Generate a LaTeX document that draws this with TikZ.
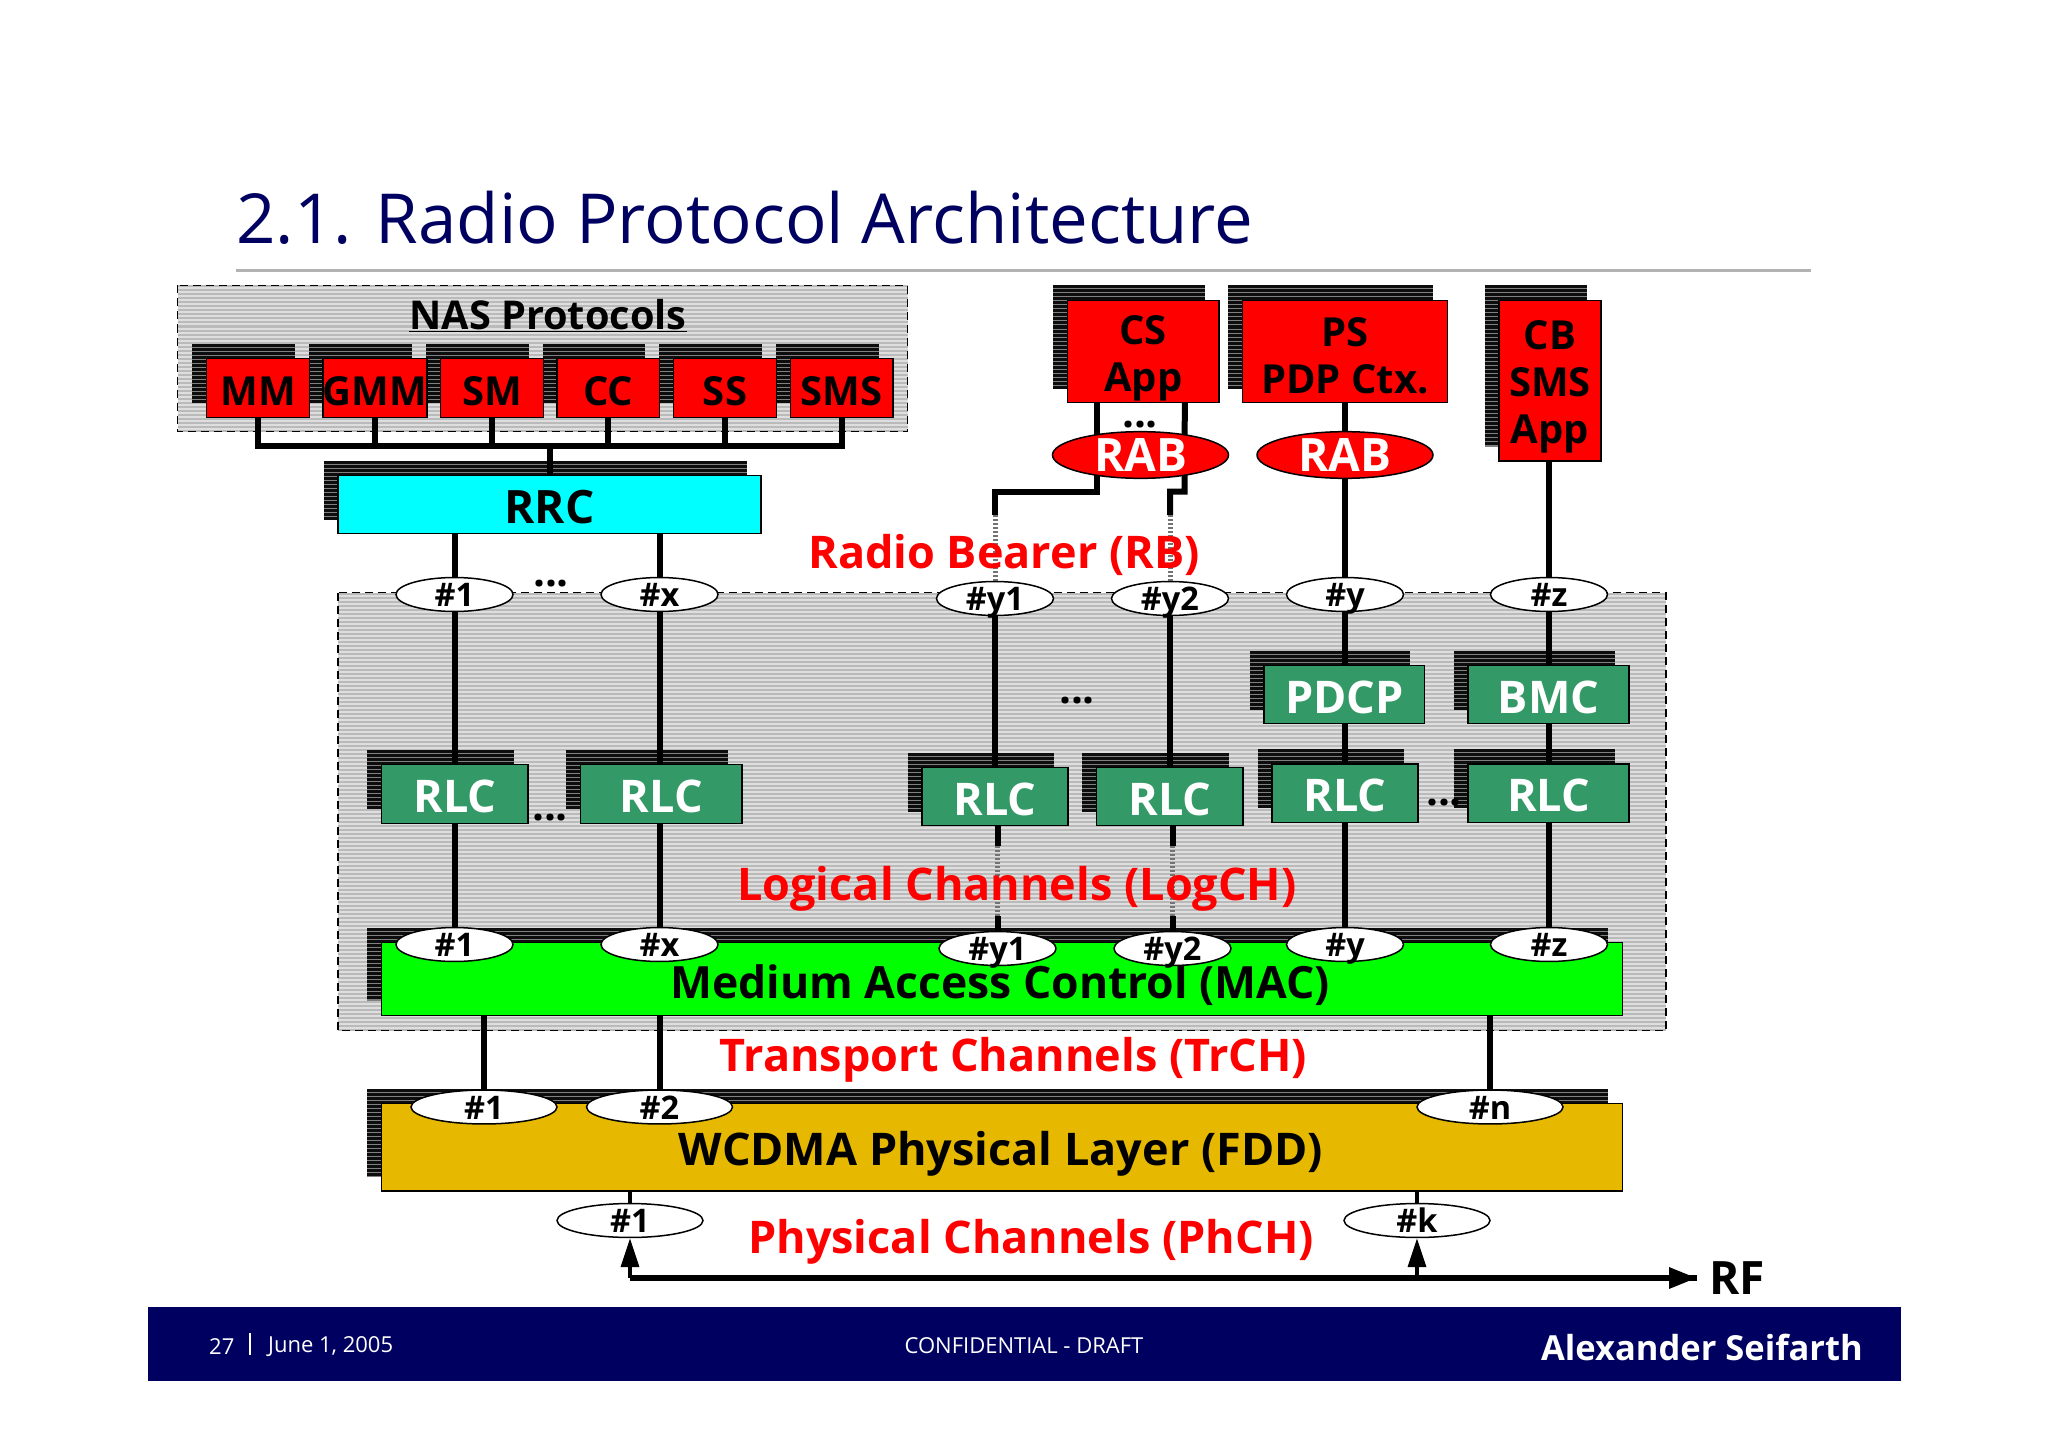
\documentclass[tikz,border=0pt]{standalone}
\usepackage{fontspec}
\setmainfont{Open Sans}
\usetikzlibrary{shapes.geometric,arrows.meta,calc}
\pgfdeclarelayer{panelL}\pgfdeclarelayer{shadL}\pgfdeclarelayer{lineL}
\pgfsetlayers{panelL,shadL,lineL,main}
\definecolor{navy}{HTML}{000060}
\definecolor{seagrn}{HTML}{339966}
\definecolor{gold}{HTML}{E6B800}
\definecolor{red0}{HTML}{FF0000}
\definecolor{cyan0}{HTML}{00FFFF}
\definecolor{green0}{HTML}{00FF00}
\newcommand{\fs}[1]{\fontsize{#1}{47}\selectfont\bfseries}
\newcommand{\hatchrect}[7]{% x1 y1 x2 y2 base stripe width
  \fill[#5] (#1,#2) rectangle (#3,#4);
  \pgfmathtruncatemacro{\nl}{(#4-#2)/4}
  \foreach \i in {0,...,\nl}{
    \pgfmathsetmacro{\yy}{#2+\i*4+1}
    \ifdim\yy pt<#4pt \draw[#6,line width=#7pt] (#1,\yy) -- (#3,\yy);\fi
  }}
\newcommand{\pbox}[7]{% name x1 y1 x2 y2 style text
  \begin{pgfonlayer}{shadL}
  \pgfmathsetmacro{\sa}{#2-14.5}\pgfmathsetmacro{\sb}{#3-14.5}
  \pgfmathsetmacro{\sc}{#4-14.5}\pgfmathsetmacro{\sd}{#5-14.5}
  \hatchrect{\sa}{\sb}{\sc}{\sd}{black!50}{black!95}{3}
  \end{pgfonlayer}
  \pgfmathsetmacro{\cx}{(#2+#4)/2}\pgfmathsetmacro{\cy}{(#3+#5)/2}
  \pgfmathsetmacro{\ww}{#4-#2}\pgfmathsetmacro{\hh}{#5-#3}
  \node[#6,minimum width=\ww pt,minimum height=\hh pt] (#1) at (\cx,\cy) {#7};}
\newcommand{\tallA}{\rule{0pt}{42pt}}
\newcommand{\tallB}{\rule{0pt}{37pt}}
\tikzset{
  box/.style={draw=black,line width=1.5pt,inner sep=0pt,rectangle,align=center,text=black},
  redbox/.style={box,fill=red0,font=\fs{40}},
  redcap/.style={redbox,text height=35pt,text depth=0pt},
  grnbox/.style={box,fill=seagrn,text=white,font=\fs{45},text height=37pt,text depth=0pt},
  chan/.style={ellipse,draw=black,line width=1.5pt,fill=white,inner sep=0pt,font=\fs{32.5},text height=24pt,text depth=0pt,minimum width=117pt,minimum height=33pt},
  chanw/.style={chan,minimum width=146pt,minimum height=29pt},
  rab/.style={ellipse,draw=black,line width=1.5pt,fill=red0,text=white,inner sep=0pt,font=\fs{46},text height=33pt,text depth=0pt,minimum width=176pt,minimum height=44pt},
  link/.style={line width=6pt,draw=black},
  faint/.style={line width=5pt,draw=black!55,dash pattern=on 1.5pt off 2.5pt},
  rtxt/.style={text=red0,font=\fs{45},inner sep=0pt},
  btxt/.style={text=black,font=\fs{44.5},inner sep=0pt},
  dotsn/.style={text=black,font=\fs{42},inner sep=0pt,anchor=base},
  frame/.style={draw=black,line width=1.5pt,dash pattern=on 8pt off 5pt},
  foot/.style={text=white,inner sep=0pt,anchor=west,font=\fontsize{22}{26}\selectfont},
  thin arrow/.style={line width=3.5pt,draw=black,-{Triangle[length=29pt,width=18pt]}},
}
\begin{document}
\begin{tikzpicture}[x=1pt,y=-1pt]
\useasboundingbox (0,0) rectangle (2048,1447);
% title
\node[anchor=base west,inner sep=0pt,text=navy,font=\fontsize{69}{76}\selectfont] (title) at (236,244) {2.1. Radio Protocol Architecture};
\coordinate (ruleL) at (236,270.5); \coordinate (ruleR) at (1811,270.5);
\draw[line width=3.5pt,draw=black!30] (ruleL) -- (ruleR);
% panels
\begin{pgfonlayer}{panelL}
\hatchrect{177.5}{285.5}{907.5}{431.5}{black!13}{black!27}{2}
\draw[frame] (177.5,285.5) rectangle (907.5,431.5);
\hatchrect{338}{592.5}{1666}{1030.5}{black!13}{black!27}{2}
\draw[frame] (338,592.5) rectangle (1666,1030.5);
\end{pgfonlayer}
\node[btxt,font=\fs{39.7}] (nas) at (548,316) {\underline{NAS Protocols}};
% NAS boxes
\pbox{mm}{206.5}{358.5}{309.5}{417.5}{redcap}{MM}
\pbox{gmm}{323.5}{358.5}{426.5}{417.5}{redcap}{GMM}
\pbox{sm}{440.5}{358.5}{543.5}{417.5}{redcap}{SM}
\pbox{cc}{557}{358.5}{659.5}{417.5}{redcap}{CC}
\pbox{ss}{673.5}{358.5}{776.5}{417.5}{redcap}{SS}
\pbox{sms}{790.5}{358.5}{893}{417.5}{redcap}{SMS}
\pbox{rrc}{338}{475.5}{761}{533.5}{box,fill=cyan0,font=\fs{46},text height=37pt,text depth=0pt}{RRC}
% apps
\pbox{cs}{1067.5}{300.5}{1219}{402.5}{redbox}{\tallA CS\\App}
\pbox{ps}{1242.5}{300.5}{1447.5}{402.5}{redbox}{\tallB PS\\PDP Ctx.}
\pbox{cb}{1499}{300.5}{1601}{461}{redbox}{\tallA CB\\SMS\\App}
\node[rab] (rab1) at (1140.5,455) {RAB};
\node[rab] (rab2) at (1345,455) {RAB};
\node[dotsn] (dA) at (1140,427) {...};
% channel ellipses at RB level
\node[chan] (b1) at (454.5,594.5) {\#1};
\node[chan] (bx) at (659.5,594.5) {\#x};
\node[chan] (by1) at (995,598.5) {\#y1};
\node[chan] (by2) at (1170,598.5) {\#y2};
\node[chan] (by) at (1345,594.5) {\#y};
\node[chan] (bz) at (1549,594.5) {\#z};
\node[dotsn] (dB) at (551,586) {...};
\node[dotsn] (dC) at (1077,703) {...};
% layer boxes
\pbox{pdcp}{1264}{665.5}{1424.5}{723.5}{grnbox}{PDCP}
\pbox{bmc}{1468}{665.5}{1629}{723.5}{grnbox}{BMC}
\pbox{r1}{381.5}{764.5}{528}{823.5}{grnbox}{RLC}
\pbox{rx}{580.5}{764.5}{742}{823.5}{grnbox}{RLC}
\pbox{ry1}{922}{767.5}{1068}{825.5}{grnbox}{RLC}
\pbox{ry2}{1096.5}{767.5}{1243}{825.5}{grnbox}{RLC}
\pbox{ry}{1272}{764}{1418}{822.5}{grnbox}{RLC}
\pbox{rz}{1468}{764}{1629}{822.5}{grnbox}{RLC}
\node[dotsn] (dD) at (550,820) {...};
\node[dotsn] (dE) at (1444,805) {...};
% MAC and PHY
\pbox{mac}{381.5}{942.5}{1622.5}{1015.5}{box,fill=green0}{}
\pbox{phy}{381.5}{1103.5}{1622.5}{1191}{box,fill=gold}{}
\node[btxt] (mact) at (1000,985) {Medium Access Control (MAC)};
\node[btxt,font=\fs{45}] (phyt) at (1001,1154) {WCDMA Physical Layer (FDD)};
\node[chan] (m1) at (454.5,944.5) {\#1};
\node[chan] (mx) at (659.5,944.5) {\#x};
\node[chan] (my1) at (997.5,948.5) {\#y1};
\node[chan] (my2) at (1172.5,948.5) {\#y2};
\node[chan] (my) at (1345,944.5) {\#y};
\node[chan] (mz) at (1549,944.5) {\#z};
\node[chanw] (t1) at (484,1107) {\#1};
\node[chanw] (t2) at (659.5,1107) {\#2};
\node[chanw] (tn) at (1490,1107) {\#n};
\node[chanw] (p1) at (630,1220.5) {\#1};
\node[chanw] (pk) at (1417,1220.5) {\#k};
% red labels
\node[rtxt] (lrb) at (1004,555) {Radio Bearer (RB)};
\node[rtxt] (llc) at (1017,889) {Logical Channels (LogCH)};
\node[rtxt] (ltc) at (1013.5,1060) {Transport Channels (TrCH)};
\node[rtxt] (lpc) at (1031,1242) {Physical Channels (PhCH)};
\node[btxt,anchor=west,font=\fs{46}] (rf) at (1709,1278) {RF};
% connectors
\coordinate (busL) at (mm|-0,446); \coordinate (busR) at (sms|-0,446);
\coordinate (busC) at (rrc|-0,446);
\coordinate (jog1) at (by1|-0,491.5);
\coordinate (jog2a) at (1184.5,491.5); \coordinate (jog2b) at (by2|-0,491.5);
\coordinate (sb1) at (by1|-0,515); \coordinate (sb2) at (by2|-0,515);
\coordinate (ca1) at (my1|-0,846); \coordinate (cb1) at (my1|-0,916);
\coordinate (ca2) at (my2|-0,846); \coordinate (cb2) at (my2|-0,916);
\coordinate (rfbase) at (p1|-0,1278); \coordinate (rfk) at (pk|-0,1278);
\coordinate (rfend) at (1697,1278);
\begin{pgfonlayer}{lineL}
\draw[link] (busL) -- (busR);
\foreach \n in {mm,gmm,sm,cc,ss,sms}{\draw[link] (\n.south) -- (\n|-busL);}
\draw[link,line cap=rect] (mm.south) -- (busL);
\draw[link,line cap=rect] (sms.south) -- (busR);
\draw[link] (busC) -- (rrc.north);
\draw[link] (b1|-rrc.south) -- (b1);
\draw[link] (bx|-rrc.south) -- (bx);
\draw[link] (b1) -- (r1.north-|b1);
\draw[link] (bx) -- (bx|-rx.north);
\draw[link] (r1.south-|m1) -- (m1);
\draw[link] (rx.south-|mx) -- (mx);
% CS to y1 / y2
\draw[link] (1097.3,402) -- (1097.3,491.5) -- (jog1) -- (sb1);
\draw[link] (1184.8,402) -- (jog2a) -- (jog2b) -- (sb2);
\draw[faint] (sb1) -- (by1);
\draw[faint] (sb2) -- (by2);
\draw[link] (by1) -- (by1|-ry1.north);
\draw[link] (by2) -- (by2|-ry2.north);
\draw[link] (ry1.south-|my1) -- (ca1);
\draw[link] (ry2.south-|my2) -- (ca2);
\draw[faint] (ca1) -- (cb1);
\draw[faint] (ca2) -- (cb2);
\draw[link] (cb1) -- (my1);
\draw[link] (cb2) -- (my2);
% PS, CB
\draw[link] (ps.south-|rab2) -- (rab2);
\draw[link] (rab2) -- (by);
\draw[link] (cb.south-|bz) -- (bz);
\draw[link] (by) -- (by|-pdcp.north);
\draw[link] (bz) -- (bz|-bmc.north);
\draw[link] (pdcp.south-|by) -- (by|-ry.north);
\draw[link] (bmc.south-|bz) -- (bz|-rz.north);
\draw[link] (ry.south-|my) -- (my);
\draw[link] (rz.south-|mz) -- (mz);
% MAC to PHY
\draw[link] (mac.south-|t1) -- (t1);
\draw[link] (mac.south-|t2) -- (t2);
\draw[link] (mac.south-|tn) -- (tn);
\draw[line width=4.5pt] (phy.south-|p1) -- (p1);
\draw[line width=4.5pt] (phy.south-|pk) -- (pk);
\draw[line width=6pt] (rfbase) -- (rfend);
\end{pgfonlayer}
\draw[thin arrow] (rfbase) -- (p1.south);
\draw[thin arrow] (rfk) -- (pk.south);
\draw[line width=6pt,-{Triangle[length=28pt,width=20pt]}] (rfk) -- (rfend);
% footer
\fill[navy] (148,1306.5) rectangle (1900.5,1380.5);
\node[foot] (fa) at (209,1346.5) {27};
\coordinate (barT) at (250,1333); \coordinate (barB) at (250,1355);
\draw[white,line width=1.2pt] (barT) -- (barB);
\node[foot] (fb) at (268,1346.5) {June 1, 2005};
\node[foot,anchor=center] (fc) at (1024,1346) {CONFIDENTIAL - DRAFT};
\node[foot,anchor=east,font=\fs{34.5}] (fd) at (1863,1347) {Alexander Seifarth};
\end{tikzpicture}
\end{document}
